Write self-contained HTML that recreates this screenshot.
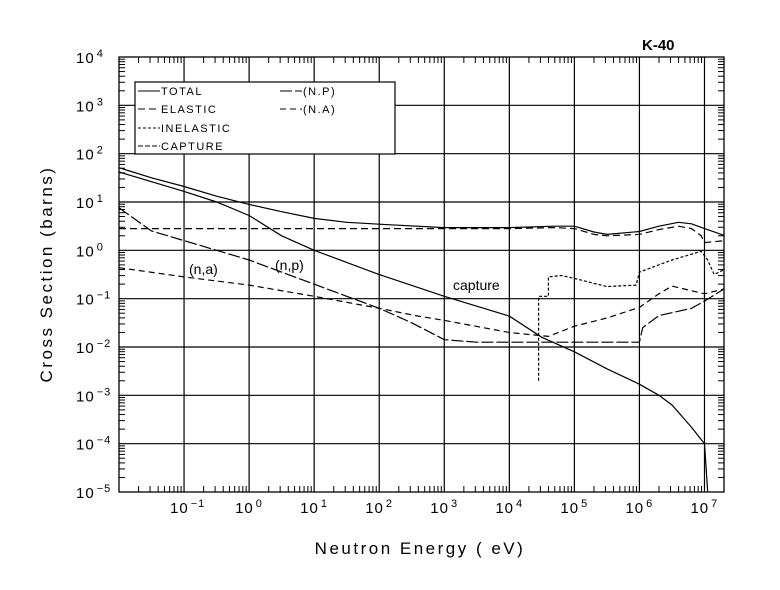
<!DOCTYPE html>
<html><head><meta charset="utf-8"><style>
html,body{margin:0;padding:0;background:#fff}
svg{display:block}
text{font-family:"Liberation Sans",sans-serif;fill:#000}
</style></head><body>
<svg id="chart" width="780" height="590" viewBox="0 0 780 590" xmlns="http://www.w3.org/2000/svg">
<rect x="0" y="0" width="780" height="590" fill="#fff"/>
<g id="grid"></g>
<g id="series"></g>
<rect x="119" y="57" width="605" height="435" fill="none" stroke="#000" stroke-width="1.3"/>
<g id="ticks"></g>
<g id="labels"></g>
<text x="642" y="50" font-size="15" font-weight="bold">K-40</text>
<text x="420" y="554" font-size="17" text-anchor="middle" letter-spacing="2.5">Neutron Energy ( eV)</text>
<text transform="translate(52,274) rotate(-90)" font-size="17" text-anchor="middle" letter-spacing="2.5">Cross Section (barns)</text>
<text x="189" y="274" font-size="14">(n,a)</text>
<text x="275" y="270" font-size="14">(n,p)</text>
<text x="453" y="290" font-size="14">capture</text>
<g>
<rect x="135" y="82" width="260" height="72" fill="#fff" stroke="#000" stroke-width="1.2"/>
<line x1="138" y1="91" x2="160" y2="91" stroke="#000"/><text x="161" y="95" font-size="11" letter-spacing="1.5">TOTAL</text>
<line x1="138" y1="109" x2="160" y2="109" stroke="#000" stroke-dasharray="7,4"/><text x="161" y="113" font-size="11" letter-spacing="1.5">ELASTIC</text>
<line x1="138" y1="128" x2="160" y2="128" stroke="#000" stroke-dasharray="3,2"/><text x="161" y="132" font-size="11" letter-spacing="1.5">INELASTIC</text>
<line x1="138" y1="146" x2="160" y2="146" stroke="#000" stroke-dasharray="5,2"/><text x="161" y="150" font-size="11" letter-spacing="1.5">CAPTURE</text>
<line x1="280" y1="91" x2="302" y2="91" stroke="#000" stroke-dasharray="12,3"/><text x="303" y="95" font-size="11" letter-spacing="1.5">(N.P)</text>
<line x1="280" y1="109" x2="302" y2="109" stroke="#000" stroke-dasharray="6,4"/><text x="303" y="113" font-size="11" letter-spacing="1.5">(N.A)</text>
</g>
</svg>
<script>
// data: log10(E/eV), log10(sigma/barns)
const totalE=[-2,-1.5,-1,-0.5,0,0.5,1,1.5,2,3,4,4.7,5,5.3,5.5,6,6.3,6.6,6.8,7,7.3];
const totalS=[1.71,1.5,1.32,1.12,0.95,0.8,0.66,0.58,0.54,0.47,0.47,0.5,0.5,0.38,0.33,0.39,0.5,0.58,0.55,0.45,0.31];
const elasticE=[-2,4,4.7,5,5.3,5.5,6,6.3,6.6,6.8,6.95,7,7.3];
const elasticS=[0.45,0.45,0.47,0.45,0.33,0.3,0.33,0.43,0.5,0.45,0.3,0.16,0.2];
const captureE=[-2,-1,-0.5,0,0.5,1,1.5,2,3,4,4.5,5,5.5,6,6.3,6.5,6.8,7,7.05];
const captureS=[1.62,1.22,1.0,0.72,0.3,0.0,-0.25,-0.5,-0.95,-1.36,-1.8,-2.1,-2.45,-2.77,-3.0,-3.2,-3.66,-4.0,-5];
const npE=[-2,-1.5,-0.5,0,0.5,1,1.5,2,2.5,3,3.5,6,6.05,6.3,6.8,7,7.3];
const npS=[0.88,0.4,0.0,-0.2,-0.45,-0.7,-0.95,-1.2,-1.5,-1.85,-1.9,-1.9,-1.6,-1.35,-1.2,-1.05,-0.8];
const naE=[-2,-1,0,1,2,2.6,3,4,4.6,5,5.5,6,6.3,6.5,7,7.3];
const naS=[-0.36,-0.55,-0.72,-0.95,-1.2,-1.36,-1.45,-1.7,-1.78,-1.57,-1.4,-1.18,-0.9,-0.74,-0.9,-0.8];
const inelE=[4.45,4.45,4.6,4.6,4.8,5,5.5,5.95,6,6.5,6.95,7.05,7.15,7.3];
const inelS=[-2.7,-0.95,-0.95,-0.55,-0.52,-0.58,-0.75,-0.72,-0.45,-0.2,-0.02,-0.2,-0.5,-0.4];
const xDecades=[-1,0,1,2,3,4,5,6,7];
const yDecades=[4,3,2,1,0,-1,-2,-3,-4,-5];

const NS='http://www.w3.org/2000/svg';
const X0=119,X1=724,LX0=-2,LX1=7.3;
const Y0=57,Y1=492,LY0=4,LY1=-5;
function xs(l){return X0+(l-LX0)/(LX1-LX0)*(X1-X0);}
function ys(l){return Y0+(LY0-l)/(LY0-LY1)*(Y1-Y0);}
function mk(tag,attrs,parent){const e=document.createElementNS(NS,tag);for(const k in attrs)e.setAttribute(k,attrs[k]);parent.appendChild(e);return e;}
const grid=document.getElementById('grid'),ticks=document.getElementById('ticks'),labels=document.getElementById('labels'),ser=document.getElementById('series');
xDecades.forEach(d=>{
  const l=mk('line',{x1:xs(d),x2:xs(d),y1:Y0,y2:Y1,stroke:'#000','stroke-width':1.2},grid);
  
  
  const t=mk('text',{x:xs(d)-14,y:513,'font-size':15,'letter-spacing':1},labels);
  
  
  t.textContent='10';
  const s=mk('tspan',{dy:-6,'font-size':11,dx:2},t);s.textContent=(d<0?'\u2212':'')+Math.abs(d);
});
yDecades.forEach(d=>{
  if(d<4&&d>-5){const l=mk('line',{x1:X0,x2:X1,y1:ys(d),y2:ys(d),stroke:'#000','stroke-width':1.2},grid);
  
  }
  const t=mk('text',{x:76,y:ys(d)+6,'font-size':15,'letter-spacing':1},labels);
  
  
  t.textContent='10';
  const s=mk('tspan',{dy:-6,'font-size':11,dx:2},t);s.textContent=(d<0?'\u2212':'')+Math.abs(d);
});
// minor ticks
for(let d=-2;d<8;d++){for(let m=2;m<10;m++){const l=d+Math.log10(m);if(l>LX1)continue;const x=xs(l);
  mk('line',{x1:x,x2:x,y1:Y1,y2:Y1-6,stroke:'#000'},ticks);mk('line',{x1:x,x2:x,y1:Y0,y2:Y0+6,stroke:'#000'},ticks);}}
for(let d=-5;d<4;d++){for(let m=2;m<10;m++){const y=ys(d+Math.log10(m));
  mk('line',{x1:X0,x2:X0+6,y1:y,y2:y,stroke:'#000'},ticks);mk('line',{x1:X1,x2:X1-6,y1:y,y2:y,stroke:'#000'},ticks);}}
function draw(E,S,dash,name){
  const pts=E.map((e,i)=>xs(e).toFixed(1)+','+ys(Math.max(S[i],LY1)).toFixed(1)).join(' ');
  const p=mk('polyline',{points:pts,fill:'none',stroke:'#000','stroke-width':1.2,'stroke-dasharray':dash},ser);
  
  
}
draw(totalE,totalS,'none','total-line');
draw(elasticE,elasticS,'7,4','elastic-line');
draw(captureE,captureS,'none','capture-line');
draw(npE,npS,'12,3','np-line');
draw(naE,naS,'6,4','na-line');
draw(inelE,inelS,'3,2','inelastic-line');
</script>
</body></html>
